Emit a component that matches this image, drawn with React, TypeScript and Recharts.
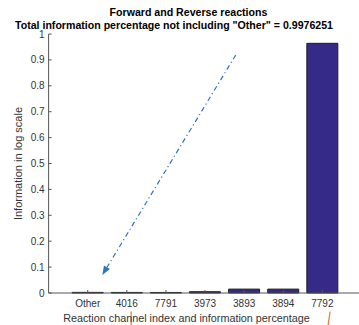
import React from 'react';
import { BarChart, Bar, XAxis, YAxis, ReferenceLine } from 'recharts';

// reaction channels and their information share
const channels = ['Other', '4016', '7791', '3973', '3893', '3894', '7792'];
const information = [0.0024, 0.0022, 0.0021, 0.005, 0.015, 0.015, 0.964];
const channelTicks = [1, 2, 3, 4, 5, 6, 7];
const infoTicks = [0, 0.1, 0.2, 0.3, 0.4, 0.5, 0.6, 0.7, 0.8, 0.9, 1];

// annotation ends, in data units
const arrowFrom = { x: 4.785, y: 0.919 };
const arrowTo = { x: 1.373, y: 0.0695 };
const markA = [{ x: 2.11, y: -0.071 }, { x: 2.11, y: -0.13 }];
const markB = [{ x: 7.197, y: -0.072 }, { x: 7.14, y: -0.13 }];

const data = channels.map((name, i) => ({ pos: i + 1, name, value: information[i] }));

const axisColor = '#555';
const textColor = '#333';
const font = '"Liberation Sans", Arial, sans-serif';

const ArrowShape = (props: any) => {
  const { x1, y1, x2, y2 } = props;
  const dx = x2 - x1;
  const dy = y2 - y1;
  const len = Math.sqrt(dx * dx + dy * dy);
  const ux = dx / len;
  const uy = dy / len;
  const headLen = 9;
  const halfW = 3.5;
  const bx = x2 - ux * headLen;
  const by = y2 - uy * headLen;
  return (
    <g>
      <line x1={x1} y1={y1} x2={bx} y2={by} stroke="#2f74c0" strokeWidth={1.2} strokeDasharray="5 3 1.2 3" />
      <polygon
        points={`${x2},${y2} ${bx - uy * halfW},${by + ux * halfW} ${bx + uy * halfW},${by - ux * halfW}`}
        fill="#2f74c0"
      />
    </g>
  );
};

export default function App() {
  // the axes box runs a little past the right edge of the picture, so the chart is cropped
  return (
    <div style={{ position: 'absolute', left: 0, top: 0, width: 359, height: 325, background: '#fff', overflow: 'hidden' }}>
      <BarChart
        width={361.5}
        height={325}
        data={data}
        margin={{ top: 34, right: 0, bottom: 0, left: 8.6 }}
      >
        <XAxis
          dataKey="pos"
          type="number"
          domain={[0, 8]}
          ticks={channelTicks}
          tickFormatter={(v: number) => channels[v - 1]}
          height={32}
          tickSize={-3}
          tickMargin={10}
          stroke={axisColor}
          tick={{ fontSize: 10, fill: textColor, fontFamily: font }}
          interval={0}
        />
        <XAxis
          xAxisId="top"
          orientation="top"
          type="number"
          domain={[0, 8]}
          ticks={channelTicks}
          height={0}
          tickSize={-3}
          tick={false}
          stroke={axisColor}
        />
        <YAxis
          domain={[0, 1]}
          ticks={infoTicks}
          width={40}
          tickSize={-3}
          tickMargin={7}
          stroke={axisColor}
          tick={{ fontSize: 10, fill: textColor, fontFamily: font }}
          interval={0}
        />
        <YAxis
          yAxisId="right"
          orientation="right"
          domain={[0, 1]}
          ticks={infoTicks}
          width={0}
          tickSize={-3}
          tick={false}
          axisLine={false}
          stroke={axisColor}
        />
        <Bar dataKey="value" fill="#352a87" stroke="#1e1e1e" strokeWidth={1} barSize={31} isAnimationActive={false} />
        <ReferenceLine segment={[arrowFrom, arrowTo]} shape={ArrowShape} />
        <ReferenceLine segment={markA} stroke="#e07b39" strokeWidth={1.2} ifOverflow="visible" />
        <ReferenceLine segment={markB} stroke="#e07b39" strokeWidth={1.2} ifOverflow="visible" />
      </BarChart>
      <svg width={359} height={325} style={{ position: 'absolute', left: 0, top: 0, pointerEvents: 'none' }}>
        <g fontFamily={font} fill="#000" fontWeight="bold" fontSize={10.6} textAnchor="middle">
          <text x={188.5} y={15.5}>Forward and Reverse reactions</text>
          <text x={174} y={28.8}>Total information percentage not including "Other" = 0.9976251</text>
        </g>
        <text x={186.5} y={322} fontFamily={font} fontSize={10.8} fill={textColor} textAnchor="middle">
          Reaction channel index and information percentage
        </text>
        <text
          x={0}
          y={0}
          transform="translate(22,163.5) rotate(-90)"
          fontFamily={font}
          fontSize={11}
          fill={textColor}
          textAnchor="middle"
        >
          Information in log scale
        </text>
      </svg>
    </div>
  );
}
